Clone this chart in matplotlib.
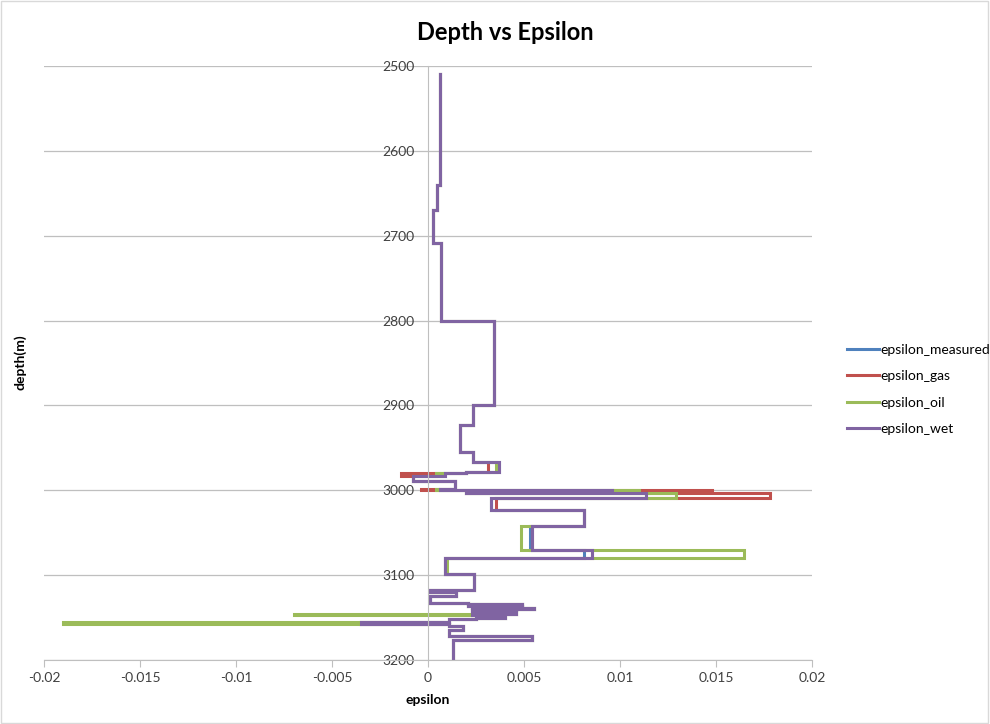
import matplotlib.pyplot as plt
import matplotlib.patches as mpatches
from matplotlib.ticker import FuncFormatter, MultipleLocator
import numpy as np

plt.rcParams["font.family"] = ["Lato", "DejaVu Sans"]

# layer boundaries (depth, m) - each layer runs from depth_bounds[i] to depth_bounds[i+1]
depth_bounds = [2510, 2640, 2670, 2709, 2800, 2900, 2923, 2955, 2967, 2979,
                2980, 2983, 2989, 2998, 2999.5, 3001, 3003, 3009.5, 3023, 3042,
                3070, 3080, 3099, 3117.5, 3119.5, 3125, 3133, 3134.5, 3135.5, 3136.5,
                3137.5, 3138.5, 3139.5, 3141, 3143.5, 3145.5, 3146.5, 3150, 3152, 3155.5,
                3157, 3160, 3164.5, 3171.5, 3176.5, 3200]

eps_wet = [0.00062, 0.00045, 0.00024, 0.00070, 0.00342, 0.00236, 0.00166, 0.00233, 0.00370,
           0.00200, 0.00090, -0.00080, 0.00140, 0.00060, 0.00960, 0.00200, 0.01136, 0.00330,
           0.00815, 0.00540, 0.00853, 0.00086, 0.00242, 0.00013, 0.00147, 0.00013, 0.00210,
           0.00490, 0.00210, 0.00490, 0.00230, 0.00550, 0.00460, 0.00230, 0.00460, 0.00230,
           0.00400, 0.00250, 0.00110, -0.00350, 0.00110, 0.00180, 0.00110, 0.00540, 0.00130]

eps_measured = [0.00062, 0.00045, 0.00024, 0.00070, 0.00342, 0.00236, 0.00166, 0.00233, 0.00370,
                0.00200, 0.00090, -0.00080, 0.00140, 0.00060, 0.00960, 0.00200, 0.01136, 0.00330,
                0.00815, 0.00529, 0.00815, 0.00086, 0.00242, 0.00013, 0.00147, 0.00013, 0.00210,
                0.00490, 0.00210, 0.00490, 0.00230, 0.00550, 0.00460, 0.00230, 0.00460, 0.00230,
                0.00400, 0.00250, 0.00110, -0.00350, 0.00110, 0.00180, 0.00110, 0.00540, 0.00130]

eps_gas = [0.00062, 0.00045, 0.00024, 0.00070, 0.00342, 0.00236, 0.00166, 0.00233, 0.00310,
           0.00200, -0.00140, -0.00080, 0.00140, -0.00035, 0.01480, 0.00200, 0.01780, 0.00355,
           0.00815, 0.00540, 0.00853, 0.00086, 0.00242, 0.00013, 0.00147, 0.00013, 0.00210,
           0.00490, 0.00210, 0.00490, 0.00230, 0.00550, 0.00460, 0.00230, 0.00460, 0.00230,
           0.00400, 0.00250, 0.00110, -0.00350, 0.00110, 0.00180, 0.00110, 0.00540, 0.00130]

eps_oil = [0.00062, 0.00045, 0.00024, 0.00070, 0.00342, 0.00236, 0.00166, 0.00233, 0.00355,
           0.00200, 0.00040, -0.00080, 0.00140, 0.00040, 0.01100, 0.00200, 0.01290, 0.00330,
           0.00815, 0.00485, 0.01645, 0.00097, 0.00242, 0.00013, 0.00147, 0.00013, 0.00210,
           0.00490, 0.00210, 0.00490, 0.00230, 0.00550, 0.00460, 0.00230, 0.00460, -0.00700,
           0.00400, 0.00250, 0.00110, -0.01900, 0.00110, 0.00180, 0.00110, 0.00540, 0.00130]

series_names = ["epsilon_measured", "epsilon_gas", "epsilon_oil", "epsilon_wet"]
series_colors = ["#4F81BD", "#C0504D", "#9BBB59", "#8064A2"]


def step_path(bounds, values):
    # each layer gives a vertical segment at its epsilon value
    tops = np.array(bounds[:-1])
    bots = np.array(bounds[1:])
    vals = np.array(values)
    depth = np.column_stack([tops, bots]).ravel()
    eps = np.repeat(vals, 2)
    return eps, depth


fig = plt.figure(figsize=(9.9, 7.24), dpi=100)
ax = fig.add_axes([44 / 990, 1 - 660 / 724, 768 / 990, 594 / 724])

all_series = [eps_measured, eps_gas, eps_oil, eps_wet]
for name, color, vals in zip(series_names, series_colors, all_series):
    x, y = step_path(depth_bounds, vals)
    ax.plot(x, y, color=color, lw=2.2, label=name, solid_joinstyle="miter")

ax.set_xlim(-0.02, 0.02)
ax.set_ylim(3200, 2500)
ax.xaxis.set_major_locator(MultipleLocator(0.005))
ax.yaxis.set_major_locator(MultipleLocator(100))
ax.xaxis.set_major_formatter(FuncFormatter(lambda v, p: "0" if abs(v) < 1e-12 else f"{v:g}"))

ax.grid(axis="y", color="#BFBFBF", lw=0.9)
ax.set_axisbelow(True)

for side in ["top", "right"]:
    ax.spines[side].set_visible(False)
ax.spines["left"].set_position(("data", 0))
ax.spines["left"].set_color("#BFBFBF")
ax.spines["bottom"].set_color("#BFBFBF")
ax.tick_params(axis="x", direction="out", length=5, color="#BFBFBF",
               labelsize=10, labelcolor="#404040", pad=4)
ax.tick_params(axis="y", length=0, labelsize=10, labelcolor="#404040", pad=10)

fig.text(505 / 990, 1 - 33 / 724, "Depth vs Epsilon", ha="center", va="center",
         fontsize=17, fontweight="bold")
fig.text(428 / 990, 1 - 700 / 724, "epsilon", ha="center", va="center",
         fontsize=10, fontweight="bold")
fig.text(20 / 990, 1 - 362 / 724, "depth(m)", ha="center", va="center",
         rotation=90, fontsize=10, fontweight="bold")

fig.legend(loc="center left", bbox_to_anchor=(841 / 990, 1 - 389.5 / 724),
           frameon=False, fontsize=10, handlelength=2.3, handletextpad=0.15,
           labelspacing=1.03, borderaxespad=0.0)

fig.patches.append(mpatches.Rectangle((0.001, 0.001), 0.997, 0.997, transform=fig.transFigure,
                                      fill=False, edgecolor="#D9D9D9", lw=1))

fig.savefig("out.png", dpi=100)
